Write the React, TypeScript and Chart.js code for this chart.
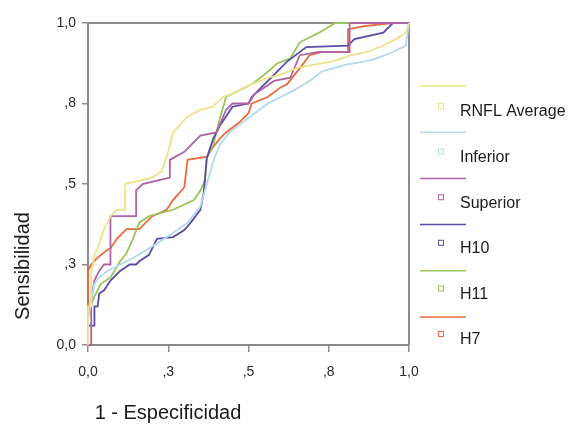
import React, { useEffect, useRef } from "react";
import { Chart, registerables } from "chart.js";

Chart.register(...registerables);

const seriesNames = ["RNFL Average", "Inferior", "Superior", "H10", "H11", "H7"];
const seriesColors = ["#ece38a", "#b2daef", "#b062a6", "#5a4ca8", "#98c65c", "#ec6a3c"];

const xTickLabels = ["0,0", ",3", ",5", ",8", "1,0"];
const yTickLabels = ["0,0", ",3", ",5", ",8", "1,0"];

const rnflAverage = [[0,0],[0,0.12],[0.01,0.12],[0.01,0.22],[0.02,0.28],[0.03,0.3],[0.05,0.36],[0.07,0.4],[0.09,0.42],[0.115,0.42],[0.115,0.5],[0.2,0.52],[0.23,0.54],[0.25,0.6],[0.265,0.66],[0.31,0.71],[0.35,0.73],[0.39,0.74],[0.42,0.77],[0.45,0.78],[0.51,0.81],[0.56,0.83],[0.6,0.84],[0.65,0.86],[0.7,0.87],[0.76,0.88],[0.82,0.9],[0.87,0.91],[0.92,0.93],[0.96,0.95],[0.99,0.97],[1,1]];
const inferior = [[0,0],[0,0.08],[0.01,0.14],[0.02,0.19],[0.035,0.21],[0.06,0.23],[0.08,0.24],[0.14,0.27],[0.19,0.3],[0.245,0.335],[0.31,0.38],[0.35,0.43],[0.37,0.5],[0.39,0.57],[0.41,0.62],[0.44,0.66],[0.48,0.69],[0.52,0.72],[0.56,0.75],[0.6,0.77],[0.64,0.79],[0.69,0.82],[0.73,0.85],[0.8,0.87],[0.86,0.88],[0.9,0.89],[0.95,0.91],[0.99,0.93],[1,1]];
const superior = [[0,0],[0.01,0],[0.01,0.14],[0.02,0.2],[0.035,0.23],[0.05,0.25],[0.07,0.25],[0.07,0.4],[0.15,0.4],[0.15,0.48],[0.17,0.5],[0.255,0.52],[0.255,0.575],[0.3,0.6],[0.35,0.65],[0.4,0.66],[0.43,0.73],[0.45,0.75],[0.5,0.75],[0.52,0.78],[0.58,0.82],[0.63,0.83],[0.66,0.9],[0.72,0.91],[0.815,0.91],[0.815,1],[1,1]];
const h10 = [[0,0],[0,0.06],[0.02,0.06],[0.02,0.12],[0.03,0.12],[0.035,0.16],[0.05,0.17],[0.07,0.2],[0.1,0.23],[0.13,0.25],[0.15,0.25],[0.16,0.26],[0.19,0.28],[0.215,0.33],[0.265,0.335],[0.3,0.357],[0.32,0.38],[0.35,0.42],[0.36,0.47],[0.364,0.51],[0.37,0.58],[0.39,0.64],[0.41,0.68],[0.43,0.71],[0.45,0.74],[0.5,0.75],[0.51,0.77],[0.54,0.8],[0.58,0.84],[0.62,0.88],[0.68,0.925],[0.81,0.93],[0.83,0.95],[0.92,0.97],[0.95,1],[1,1]];
const h11 = [[0,0],[0,0.1],[0.02,0.15],[0.04,0.19],[0.07,0.21],[0.1,0.26],[0.12,0.285],[0.14,0.33],[0.16,0.38],[0.19,0.4],[0.265,0.42],[0.33,0.45],[0.35,0.48],[0.364,0.51],[0.37,0.58],[0.39,0.62],[0.41,0.7],[0.43,0.77],[0.47,0.79],[0.51,0.81],[0.55,0.84],[0.59,0.875],[0.63,0.89],[0.66,0.94],[0.72,0.97],[0.77,1],[1,1]];
const h7 = [[0,0],[0,0.23],[0.01,0.25],[0.028,0.27],[0.06,0.295],[0.07,0.3],[0.09,0.33],[0.12,0.36],[0.16,0.36],[0.2,0.4],[0.245,0.42],[0.265,0.45],[0.3,0.49],[0.31,0.575],[0.37,0.585],[0.39,0.615],[0.41,0.64],[0.43,0.66],[0.47,0.69],[0.5,0.72],[0.51,0.75],[0.56,0.77],[0.6,0.8],[0.62,0.81],[0.66,0.86],[0.69,0.9],[0.73,0.91],[0.81,0.91],[0.81,0.98],[0.86,0.99],[0.95,1],[1,1]];

const seriesData = [rnflAverage, inferior, superior, h10, h11, h7];

const xTitle = "1 - Especificidad";
const yTitle = "Sensibilidad";

const axisColor = "#8c8c8c";
const textColor = "#1a1a1a";
const fontFamily = "'Liberation Sans', Arial, sans-serif";

const decorPlugin = {
  id: "decor",
  beforeDatasetsDraw(chart: any) {
    const { ctx, chartArea: a } = chart;
    ctx.save();
    ctx.strokeStyle = axisColor;
    ctx.lineWidth = 2;
    ctx.beginPath();
    ctx.moveTo(a.left, a.top);
    ctx.lineTo(a.right, a.top);
    ctx.lineTo(a.right, a.bottom);
    ctx.stroke();
    ctx.restore();
  },
  afterDraw(chart: any) {
    const { ctx, chartArea: a } = chart;
    ctx.save();
    ctx.fillStyle = textColor;
    ctx.font = `20px ${fontFamily}`;
    ctx.textBaseline = "middle";
    ctx.textAlign = "center";
    ctx.fillText(xTitle, a.left + 80, a.bottom + 68);
    ctx.save();
    ctx.translate(a.left - 65, a.bottom - 79);
    ctx.rotate(-Math.PI / 2);
    ctx.fillText(yTitle, 0, 0);
    ctx.restore();

    // legend
    const lx = a.right + 11;
    chart.data.datasets.forEach((ds: any, i: number) => {
      const ly = a.top + 63 + i * 46.2;
      const ty = a.top + 89 + i * 45.6;
      ctx.strokeStyle = ds.borderColor;
      ctx.lineWidth = 1.5;
      ctx.beginPath();
      ctx.moveTo(lx, ly);
      ctx.lineTo(lx + 46, ly);
      ctx.stroke();
      ctx.lineWidth = 1;
      ctx.strokeRect(lx + 18.5, ty - 8.5, 5, 5);
      ctx.fillStyle = textColor;
      ctx.font = `16px ${fontFamily}`;
      ctx.textAlign = "left";
      ctx.textBaseline = "middle";
      ctx.fillText(ds.label, lx + 40, ty);
    });
    ctx.restore();
  },
};

export default function App() {
  const ref = useRef<HTMLCanvasElement | null>(null);
  useEffect(() => {
    if (!ref.current) return;
    const chart = new Chart(ref.current, {
      type: "scatter",
      data: {
        datasets: seriesNames.map((name, i) => ({
          label: name,
          data: seriesData[i].map(([x, y]) => ({ x, y })),
          showLine: true,
          borderColor: seriesColors[i],
          backgroundColor: seriesColors[i],
          borderWidth: 1.8,
          pointRadius: 0,
          pointHoverRadius: 0,
          tension: 0,
          clip: 4,
        })),
      },
      options: {
        animation: false,
        responsive: false,
        events: [],
        layout: { padding: { left: 0, top: 23, right: 163, bottom: 0 } },
        plugins: { legend: { display: false }, tooltip: { enabled: false } },
        scales: {
          x: {
            type: "linear",
            min: 0,
            max: 1,
            afterFit: (s: any) => { s.height = 80; },
            ticks: {
              stepSize: 0.25,
              color: "#2a2a2a",
              font: { family: fontFamily, size: 14 },
              padding: 12,
              maxRotation: 0,
              callback: (_v: any, idx: number) => xTickLabels[idx],
            },
            grid: { drawOnChartArea: false, drawTicks: true, tickLength: 7, color: axisColor, lineWidth: 1.5 },
            border: { color: axisColor, width: 2 },
          },
          y: {
            type: "linear",
            min: 0,
            max: 1,
            afterFit: (s: any) => { s.width = 88; },
            ticks: {
              stepSize: 0.25,
              color: "#2a2a2a",
              font: { family: fontFamily, size: 14 },
              padding: 6,
              callback: (_v: any, idx: number) => yTickLabels[idx],
            },
            grid: { drawOnChartArea: false, drawTicks: true, tickLength: 6, color: axisColor, lineWidth: 1.5 },
            border: { color: axisColor, width: 2 },
          },
        },
      },
      plugins: [decorPlugin],
    });
    return () => chart.destroy();
  }, []);
  return (
    <div style={{ position: "fixed", left: 0, top: 0, width: 572, height: 425, background: "#fff" }}>
      <canvas ref={ref} width={572} height={425} />
    </div>
  );
}
